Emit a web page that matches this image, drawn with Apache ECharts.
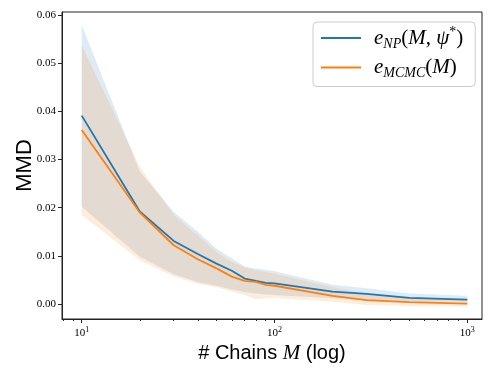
<!DOCTYPE html>
<html>
<head>
<meta charset="utf-8">
<script src="https://cdn.jsdelivr.net/npm/echarts@6/dist/echarts.min.js"></script>
<style>
  html, body { margin: 0; background: #fff; }
  #chart { width: 498px; height: 374px; }
</style>
</head>
<body>
<div id="chart"></div>
<script>
// number of chains (x, log axis)
const chains = [10, 20, 30, 40, 50, 60, 70, 80, 90, 100, 200, 300, 500, 1000]

// e_NP(M, psi*) mean and band
const npMean = [0.0391, 0.0192, 0.0131, 0.0104, 0.0084, 0.0069, 0.0053, 0.0048, 0.0044, 0.0043, 0.0026, 0.0021, 0.0013, 0.0009]
const npHigh = [0.0579, 0.0275, 0.0191, 0.0150, 0.0115, 0.0095, 0.0078, 0.0074, 0.0071, 0.0068, 0.0040, 0.0033, 0.0022, 0.0017]
const npLow  = [0.0202, 0.0098, 0.0062, 0.0046, 0.0038, 0.0030, 0.0025, 0.0022, 0.0020, 0.0019, 0.0012, 0.0009, 0.0006, 0.0005]

// e_MCMC(M) mean and band
const mcmcMean = [0.0361, 0.0190, 0.0122, 0.0093, 0.0074, 0.0057, 0.0048, 0.0046, 0.0040, 0.0038, 0.0017, 0.0008, 0.0004, 0.0001]
const mcmcHigh = [0.0537, 0.0285, 0.0185, 0.0142, 0.0108, 0.0088, 0.0076, 0.0070, 0.0066, 0.0063, 0.0035, 0.0022, 0.0013, 0.0008]
const mcmcLow  = [0.0185, 0.0091, 0.0057, 0.0042, 0.0035, 0.0026, 0.0019, 0.0010, 0.0012, 0.0013, 0.0005, -0.0002, -0.0004, -0.0005]

// tick labels
const xTicks = [10, 100, 1000]
const xMinorTicks = [8, 9, 20, 30, 40, 50, 60, 70, 80, 90, 200, 300, 400, 500, 600, 700, 800, 900]
const yTicks = [0, 0.01, 0.02, 0.03, 0.04, 0.05, 0.06]

const BLUE = '#1f77b4'
const ORANGE = '#ff7f0e'
const serif = "'Liberation Serif', 'DejaVu Serif', serif"
const sans = "'Liberation Sans', Arial, sans-serif"

const chart = echarts.init(document.getElementById('chart'))

// band polygon drawn once from all points, via the axis scales
const bandSeries = (name, low, high, color) => ({
  name: name + ' band',
  type: 'custom',
  clip: true,
  silent: true,
  z: 1,
  data: chains.map((c, i) => [c, low[i], high[i]]),
  encode: { x: 0, y: [1, 2] },
  renderItem: (params, api) => {
    if (params.dataIndex !== 0) return null
    const pts = []
    chains.forEach((c, i) => pts.push(api.coord([c, high[i]])))
    for (let i = chains.length - 1; i >= 0; i--) pts.push(api.coord([chains[i], low[i]]))
    return {
      type: 'polygon',
      shape: { points: pts },
      style: { fill: color, opacity: 0.15 }
    }
  }
})

const option = {
  animation: false,
  backgroundColor: '#fff',
  grid: {
    left: 62, right: 16, top: 12, bottom: 55,
    show: true, borderColor: '#222', borderWidth: 1, backgroundColor: 'transparent'
  },
  legend: {
    orient: 'vertical',
    left: 313, top: 22,
    padding: [3, 12, 6, 8],
    itemGap: 6,
    itemWidth: 40,
    itemHeight: 2,
    icon: 'rect',
    borderColor: '#ccc',
    borderWidth: 1,
    borderRadius: 4,
    backgroundColor: '#fff',
    data: ['NP', 'MCMC'],
    formatter: name => name === 'NP'
      ? '{i|e}{sub|NP}{n|(}{i|M}{n|, }{i|ψ}{sup|*}{n|)}'
      : '{i|e}{sub|MCMC}{n|(}{i|M}{n|)}',
    textStyle: {
      padding: [0, 0, 0, 8],
      rich: {
        i: { fontFamily: serif, fontStyle: 'italic', fontSize: 21, lineHeight: 26, color: '#000' },
        n: { fontFamily: serif, fontSize: 21, lineHeight: 26, color: '#000' },
        sub: { fontFamily: serif, fontStyle: 'italic', fontSize: 14, lineHeight: 26, verticalAlign: 'bottom', color: '#000' },
        sup: { fontFamily: serif, fontSize: 14, lineHeight: 26, verticalAlign: 'top', color: '#000' }
      }
    }
  },
  xAxis: [{
    type: 'log',
    min: 7.9,
    max: 1191,
    logBase: 10,
    name: '{s|# Chains }{i|M}{s| (log)}',
    nameLocation: 'middle',
    nameGap: 24,
    nameMoveOverlap: false,
    nameTextStyle: {
      rich: {
        s: { fontFamily: sans, fontSize: 20, color: '#000' },
        i: { fontFamily: serif, fontStyle: 'italic', fontSize: 21, color: '#000' }
      }
    },
    axisLine: { show: true, onZero: false, lineStyle: { color: '#222', width: 1 } },
    axisTick: { show: true, length: 4, customValues: xTicks, lineStyle: { color: '#222' } },
    axisLabel: {
      customValues: xTicks,
      margin: 7,
      formatter: v => '{b|10}{s|' + Math.round(Math.log10(v)) + '}',
      rich: {
        b: { fontFamily: serif, fontSize: 11, color: '#000' },
        s: { fontFamily: serif, fontSize: 8, color: '#000', verticalAlign: 'top', lineHeight: 15 }
      }
    },
    splitLine: { show: false }
  }, {
    type: 'log',
    min: 7.9,
    max: 1191,
    logBase: 10,
    position: 'bottom',
    axisLine: { show: false, onZero: false },
    axisTick: { show: true, length: 2, customValues: xMinorTicks, lineStyle: { color: '#222' } },
    axisLabel: { show: false },
    splitLine: { show: false }
  }],
  yAxis: {
    type: 'value',
    min: -0.0031,
    max: 0.0606,
    name: 'MMD',
    nameLocation: 'middle',
    nameGap: 26,
    nameMoveOverlap: false,
    nameTextStyle: { fontFamily: sans, fontSize: 22, color: '#000' },
    axisLine: { show: true, lineStyle: { color: '#222', width: 1 } },
    axisTick: { show: true, length: 4, customValues: yTicks, lineStyle: { color: '#222' } },
    axisLabel: {
      customValues: yTicks,
      margin: 6,
      formatter: v => v.toFixed(2),
      fontFamily: serif,
      fontSize: 11,
      color: '#000'
    },
    splitLine: { show: false }
  },
  series: [
    bandSeries('NP', npLow, npHigh, BLUE),
    {
      name: 'NP',
      type: 'line',
      z: 3,
      showSymbol: false,
      color: BLUE,
      lineStyle: { color: BLUE, width: 1.8 },
      data: chains.map((c, i) => [c, npMean[i]])
    },
    bandSeries('MCMC', mcmcLow, mcmcHigh, ORANGE),
    {
      name: 'MCMC',
      type: 'line',
      z: 4,
      showSymbol: false,
      color: ORANGE,
      lineStyle: { color: ORANGE, width: 1.8 },
      data: chains.map((c, i) => [c, mcmcMean[i]])
    }
  ]
}

chart.setOption(option)
window.addEventListener('resize', () => chart.resize())
</script>
</body>
</html>
